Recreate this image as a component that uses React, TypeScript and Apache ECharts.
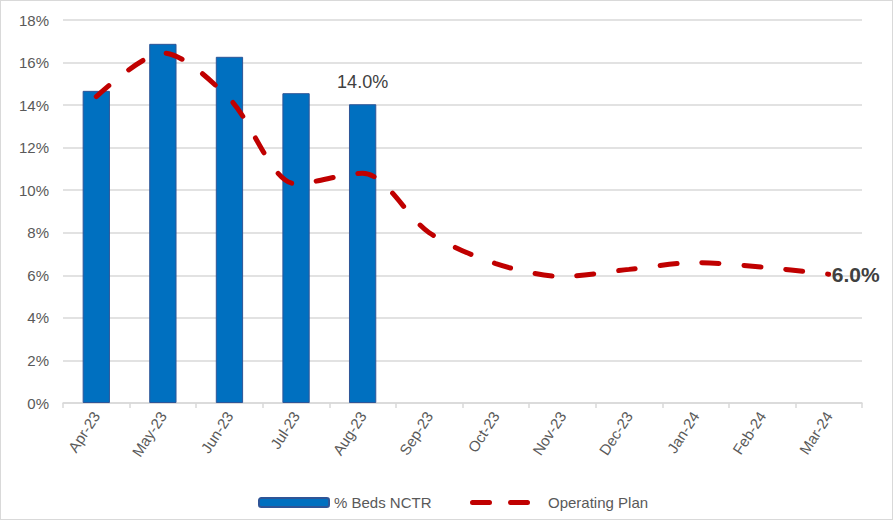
import React, { useEffect, useRef } from "react";
import * as echarts from "echarts";

const categories = ["Apr-23", "May-23", "Jun-23", "Jul-23", "Aug-23", "Sep-23", "Oct-23", "Nov-23", "Dec-23", "Jan-24", "Feb-24", "Mar-24"];
const bedsNCTR: (number | null)[] = [14.67, 16.88, 16.27, 14.56, 14.04, null, null, null, null, null, null, null];
const operatingPlan = [14.4, 16.45, 14.3, 10.3, 10.8, 8.0, 6.55, 5.95, 6.28, 6.6, 6.39, 6.05];

const dashIcon =
  "path://M2.5,0 h17 a2.5,2.5 0 0 1 0,5 h-17 a2.5,2.5 0 0 1 0,-5 z M40.5,0 h17 a2.5,2.5 0 0 1 0,5 h-17 a2.5,2.5 0 0 1 0,-5 z";

export default function App() {
  const ref = useRef<HTMLDivElement>(null);
  useEffect(() => {
    if (!ref.current) return;
    const chart = echarts.init(ref.current, undefined, { renderer: "svg" });
    const font = "Liberation Sans, Arial, sans-serif";
    chart.setOption({
      animation: false,
      textStyle: { fontFamily: font },
      grid: { left: 62, right: 30, top: 19, bottom: 116 },
      legend: [
        {
          left: 252,
          top: 489,
          itemWidth: 70,
          itemHeight: 9,
          textStyle: { fontSize: 15, color: "#595959", fontFamily: font },
          data: ["% Beds NCTR"],
        },
        {
          left: 464,
          top: 489,
          itemWidth: 60,
          itemHeight: 5,
          textStyle: { fontSize: 15, color: "#595959", fontFamily: font, padding: [0, 0, 0, 13] },
          data: [{ name: "Operating Plan", icon: dashIcon }],
        },
      ],
      xAxis: {
        type: "category",
        data: categories,
        boundaryGap: true,
        axisLine: { lineStyle: { color: "#d9d9d9", width: 1.5 } },
        axisTick: { show: true, length: 5, lineStyle: { color: "#d9d9d9", width: 1.5 } },
        axisLabel: { rotate: 57, fontSize: 15, color: "#595959", margin: 10, fontFamily: font },
      },
      yAxis: {
        type: "value",
        min: 0,
        max: 18,
        interval: 2,
        axisLabel: { formatter: "{value}%", fontSize: 15, color: "#595959", margin: 14, fontFamily: font },
        splitLine: { lineStyle: { color: "#d9d9d9", width: 1.5 } },
        axisLine: { show: false },
        axisTick: { show: false },
      },
      series: [
        {
          name: "% Beds NCTR",
          type: "bar",
          barWidth: "41%",
          itemStyle: { color: "#0070C0", borderColor: "#2F5597", borderWidth: 1 },
          data: bedsNCTR.map((v, i) =>
            i === 4
              ? {
                  value: v,
                  label: {
                    show: true,
                    position: "top",
                    distance: 13,
                    formatter: (p: any) => p.value.toFixed(1) + "%",
                    fontSize: 18,
                    color: "#404040",
                    fontFamily: font,
                  },
                }
              : v
          ),
        },
        {
          name: "Operating Plan",
          type: "line",
          smooth: 0.3,
          showSymbol: false,
          symbol: "none",
          lineStyle: { color: "#C00000", width: 5, type: [17, 25], cap: "round" },
          itemStyle: { color: "#C00000" },
          endLabel: {
            show: true,
            distance: 3,
            formatter: (p: any) => Number(p.value).toFixed(1) + "%",
            fontSize: 21,
            fontWeight: "bold",
            color: "#404040",
            fontFamily: font,
          },
          data: operatingPlan,
        },
      ],
    });
    return () => chart.dispose();
  }, []);
  return (
    <div
      style={{
        position: "fixed",
        left: 0,
        top: 0,
        width: 893,
        height: 520,
        boxSizing: "border-box",
        border: "1px solid #d9d9d9",
        background: "#fff",
      }}
    >
      <div ref={ref} style={{ width: 891, height: 518 }} />
    </div>
  );
}
